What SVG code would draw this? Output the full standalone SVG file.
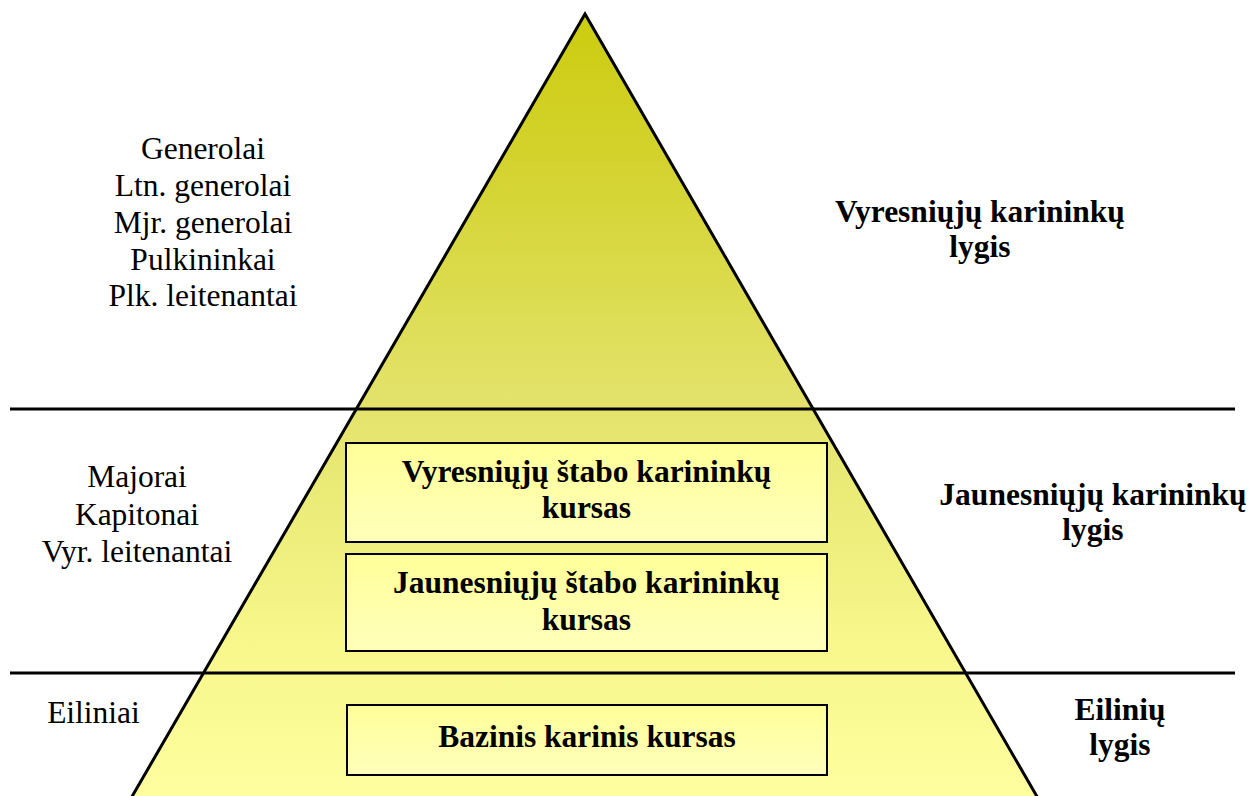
<svg xmlns="http://www.w3.org/2000/svg" width="1255" height="796" viewBox="0 0 1255 796">
<defs>
<linearGradient id="pyr" gradientUnits="userSpaceOnUse" x1="0" y1="14" x2="0" y2="796">
<stop offset="0" stop-color="#CCCC10"/>
<stop offset="0.2" stop-color="#D4D330"/>
<stop offset="0.5" stop-color="#E3E36C"/>
<stop offset="0.8" stop-color="#F7F78B"/>
<stop offset="1" stop-color="#FEFE9F"/>
</linearGradient>
<linearGradient id="box" x1="0" y1="0" x2="0" y2="1">
<stop offset="0" stop-color="#FFFF99"/>
<stop offset="1" stop-color="#FFFFBB"/>
</linearGradient>
</defs>
<style>
.t{font-family:"Liberation Serif","Times New Roman",serif;font-size:31.5px;fill:#000;text-anchor:middle}
.b{font-weight:bold}
.bx{fill:url(#box);stroke:#000;stroke-width:2}
.ln{stroke:#000;stroke-width:3;fill:none}
</style>
<g id="pyramid">
<polygon points="585,14 1039,800 130,800" fill="url(#pyr)" stroke="#000" stroke-width="3" stroke-linejoin="miter"/>
</g>
<g id="connectors">
<line class="ln" x1="10" y1="409" x2="1235" y2="409"/>
<line class="ln" x1="10" y1="673" x2="1235" y2="673"/>
</g>
<g id="box1">
<rect class="bx" x="346" y="443" width="481" height="99"/>
<text class="t b" x="586.5" y="482">Vyresniųjų štabo karininkų</text>
<text class="t b" x="586.5" y="518">kursas</text>
</g>
<g id="box2">
<rect class="bx" x="346" y="554" width="481" height="97"/>
<text class="t b" x="586.5" y="593">Jaunesniųjų štabo karininkų</text>
<text class="t b" x="586.5" y="630">kursas</text>
</g>
<g id="box3">
<rect class="bx" x="347" y="705" width="480" height="70"/>
<text class="t b" x="587" y="747">Bazinis karinis kursas</text>
</g>
<g id="ranks-senior">
<text class="t" x="203" y="159">Generolai</text>
<text class="t" x="203" y="196">Ltn. generolai</text>
<text class="t" x="203" y="233">Mjr. generolai</text>
<text class="t" x="203" y="270">Pulkininkai</text>
<text class="t" x="203" y="306">Plk. leitenantai</text>
</g>
<g id="ranks-junior">
<text class="t" x="137" y="487">Majorai</text>
<text class="t" x="137" y="525">Kapitonai</text>
<text class="t" x="137" y="562">Vyr. leitenantai</text>
</g>
<g id="ranks-enlisted">
<text class="t" x="93.5" y="723">Eiliniai</text>
</g>
<g id="level-senior">
<text class="t b" x="980" y="222">Vyresniųjų karininkų</text>
<text class="t b" x="980" y="257">lygis</text>
</g>
<g id="level-junior">
<text class="t b" x="1093" y="505">Jaunesniųjų karininkų</text>
<text class="t b" x="1093" y="540">lygis</text>
</g>
<g id="level-enlisted">
<text class="t b" x="1120" y="720">Eilinių</text>
<text class="t b" x="1120" y="755">lygis</text>
</g>
</svg>
